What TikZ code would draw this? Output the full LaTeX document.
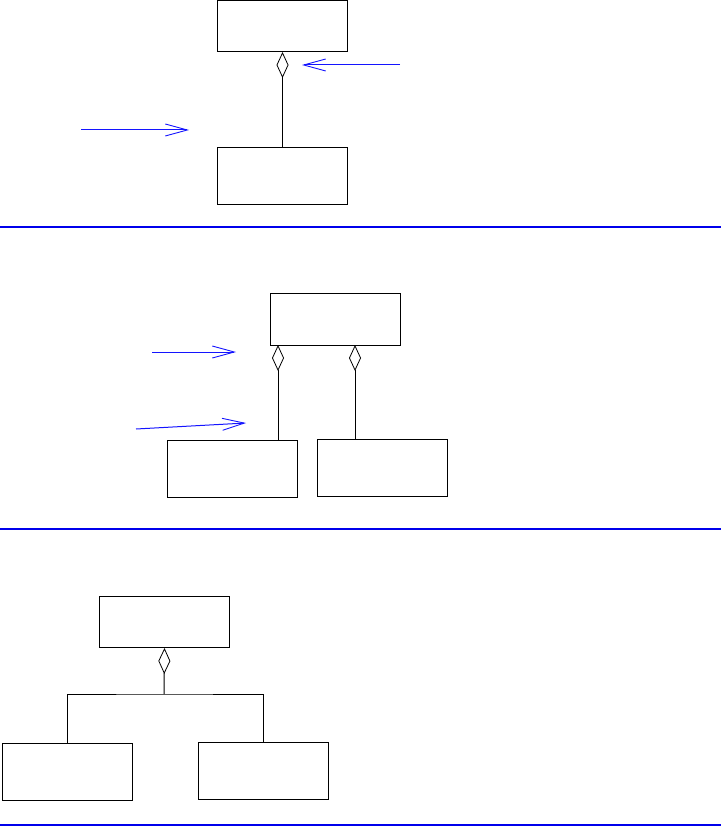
\documentclass[tikz,border=0pt]{standalone}
\usepackage{tikz}
\usetikzlibrary{arrows.meta, positioning}
\definecolor{ruleblue}{RGB}{0,0,235}
\definecolor{hintblue}{RGB}{20,20,255}

\begin{document}
\begin{tikzpicture}[
    x=1pt, y=-1pt,
    node distance=95pt,
    classbox/.style={rectangle, draw, line width=1pt, inner sep=0pt, minimum width=130pt, minimum height=51pt},
    tallbox/.style={classbox, minimum height=57pt},
    whole/.style={{Diamond[open, length=26pt, width=12pt, line width=0.8pt]}-, line width=1pt},
    link/.style={line width=1pt},
    hint/.style={-{Straight Barb[length=22pt, width=12pt, line width=0.9pt]}, line width=1pt, hintblue},
    sectionrule/.style={line width=2pt, ruleblue}
]
    \useasboundingbox (0,0) rectangle (721,826);

    % Part 1: one whole, one part
    \node[classbox, anchor=north west] (whole1) at (217,0) {};
    \node[tallbox, below=95pt of whole1] (part1) {};
    \draw[whole] (whole1.south) -- (part1.north);

    \coordinate (hintA) at (400,65);
    \coordinate (hintAend) at (302,65);
    \draw[hint] (hintA) -- (hintAend);
    \coordinate (hintB) at (81,130);
    \coordinate (hintBend) at (189,130);
    \draw[hint] (hintB) -- (hintBend);

    \draw[sectionrule] (0,227) -- (721,227);

    % Part 2: one whole, two parts
    \node[classbox, minimum height=52pt, anchor=north west] (whole2) at (270,293) {};
    \node[tallbox, anchor=north west] (part2a) at (167,440) {};
    \node[tallbox, anchor=north west] (part2b) at (317,439) {};
    \coordinate (joinA) at (278,345);
    \coordinate (joinB) at (355,345);
    \draw[whole] (joinA) -- (joinA |- part2a.north);
    \draw[whole] (joinB) -- (joinB |- part2b.north);

    \coordinate (hintC) at (152,352);
    \coordinate (hintCend) at (236,352);
    \draw[hint] (hintC) -- (hintCend);
    \coordinate (hintD) at (136,429);
    \coordinate (hintDend) at (246,423);
    \draw[hint] (hintD) -- (hintDend);

    \draw[sectionrule] (0,529) -- (721,529);

    % Part 3: shared aggregation, tree style
    \node[classbox, anchor=north west] (whole3) at (99,596) {};
    \node[tallbox, anchor=north west] (part3a) at (2,743) {};
    \node[tallbox, anchor=north west] (part3b) at (198,742) {};
    \coordinate (fork) at (164,694);
    \draw[whole] (whole3.south) -- (fork);
    \draw[link] (part3a.north) |- (fork) -| (part3b.north);

    \draw[sectionrule] (0,825) -- (721,825);

\end{tikzpicture}
\end{document}
